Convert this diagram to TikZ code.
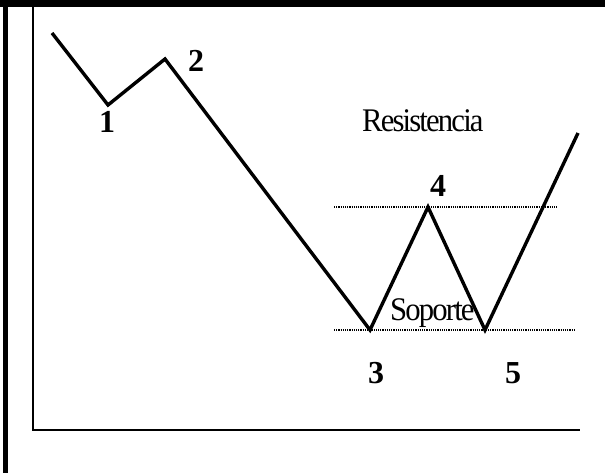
\documentclass[tikz,border=0pt]{standalone}
\usepackage{fontspec}
\setmainfont{Liberation Serif}
\newfontfamily\tightserif[LetterSpace=-6]{Liberation Serif}
\begin{document}
\begin{tikzpicture}[x=1pt,y=-1pt,
  trend/.style={line width=3.4pt,black},
  level/.style={line width=1.3pt,dash pattern=on 1.2pt off 1pt},
  num/.style={font=\fontsize{32}{32}\selectfont\bfseries,anchor=base,inner sep=0pt},
  word/.style={font=\tightserif\fontsize{33}{33}\selectfont,anchor=base west,inner sep=0pt,xscale=0.93}]
\useasboundingbox (0,0) rectangle (605,473);
% frame
\fill (0,0) rectangle (605,7);
\fill (3,0) rectangle (8,473);
\coordinate (ftop) at (33,7);
\coordinate (fcorner) at (33,430);
\coordinate (fright) at (580,430);
\draw[line width=1.8pt] (ftop) -- (fcorner) -- (fright);
% support / resistance
\coordinate (r1) at (334,207);
\coordinate (r2) at (557,207);
\coordinate (s1) at (334,330);
\coordinate (s2) at (576,330);
\draw[level] (r1) -- (r2);
\draw[level] (s1) -- (s2);
% price path
\coordinate (p0) at (52,33);
\coordinate (p1) at (108,105);
\coordinate (p2) at (165,59);
\coordinate (p3) at (370,330);
\coordinate (p4) at (428,207);
\coordinate (p5) at (485,330);
\coordinate (p6) at (578,133);
\draw[trend] (p0) -- (p1) -- (p2) -- (p3) -- (p4) -- (p5) -- (p6);
% labels
\node[num] (l1) at (107,133) {1};
\node[num] (l2) at (196,72) {2};
\node[num] (l3) at (376,383) {3};
\node[num] (l4) at (438,197) {4};
\node[num] (l5) at (513,383) {5};
\node[word] (res) at (362,132) {Resistencia};
\node[word] (sop) at (390,320) {Soporte};
\end{tikzpicture}
\end{document}
